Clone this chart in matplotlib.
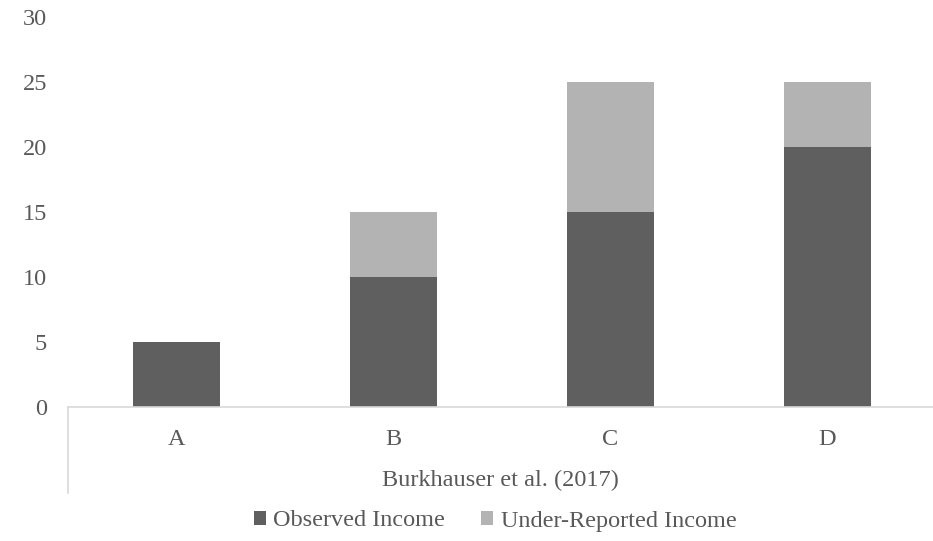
import matplotlib
matplotlib.use("Agg")
import matplotlib.pyplot as plt
from matplotlib.lines import Line2D
import numpy as np

categories = ["A", "B", "C", "D"]
observed = [5, 10, 15, 20]
under_reported = [0, 5, 10, 5]
y_ticks = [0, 5, 10, 15, 20, 25, 30]
group_label = "Burkhauser et al. (2017)"
series_names = ["Observed Income", "Under-Reported Income"]

plt.rcParams["font.family"] = ["Liberation Serif", "DejaVu Serif"]
text_color = "#595959"
dark = "#5f5f5f"
light = "#b3b3b3"
axis_color = "#d9d9d9"
fs = 17.5

fig = plt.figure(figsize=(9.33, 5.41), dpi=100)
ax = fig.add_axes([68 / 933, 1 - 407 / 541, (936 - 68) / 933, (407 - 17) / 541])

x = np.arange(len(categories))
width = 0.4
ax.bar(x, observed, width, color=dark, label=series_names[0], zorder=2)
ax.bar(x, under_reported, width, bottom=observed, color=light,
       label=series_names[1], zorder=2)

ax.set_xlim(-0.5, len(categories) - 0.5)
ax.set_ylim(0, 30)
ax.set_yticks(y_ticks)
ax.set_xticks(x)
ax.set_xticklabels(categories)
ax.tick_params(axis="both", length=0, labelsize=fs, colors=text_color)
ax.tick_params(axis="y", pad=15)
ax.tick_params(axis="x", pad=16)

for side in ["top", "right", "left"]:
    ax.spines[side].set_visible(False)
ax.spines["bottom"].set_color(axis_color)
ax.spines["bottom"].set_linewidth(1.2)

# vertical divider of the category group
ax.add_line(Line2D([0, 0], [0, -86 / 390], transform=ax.transAxes,
                   color=axis_color, lw=1.2, clip_on=False))
ax.text(0.5 * (68 + 933) / 933, 1 - 480 / 541, group_label,
        transform=fig.transFigure, ha="center", va="center",
        fontsize=fs, color=text_color)

leg = fig.legend(loc="center", bbox_to_anchor=(495 / 933, 1 - 521 / 541),
                 ncol=2, frameon=False, fontsize=fs, handlelength=0.5,
                 handleheight=0.5, handletextpad=0.3, columnspacing=1.5,
                 borderpad=0)
for t in leg.get_texts():
    t.set_color(text_color)

fig.savefig("out.png", dpi=100)
